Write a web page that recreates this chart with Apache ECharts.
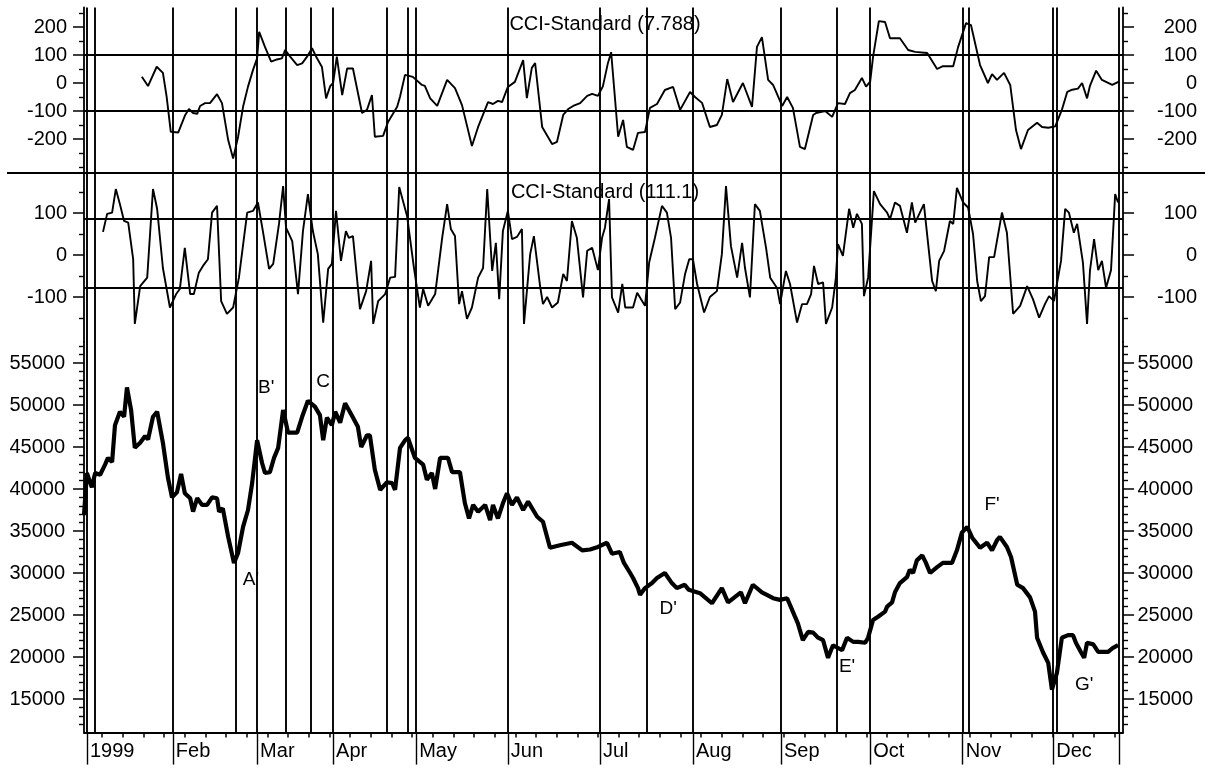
<!DOCTYPE html>
<html><head><meta charset="utf-8">
<script src="https://cdn.jsdelivr.net/npm/echarts@6.0.0/dist/echarts.min.js"></script>
<style>html,body{margin:0;padding:0;background:#fff}#c{width:1211px;height:769px}</style>
</head><body><div id="c"></div>
<script>
const FONT = '"Liberation Sans", Arial, Helvetica, sans-serif';

// x axis: position in trading days from the first bar of 1999
const X_MAX = 251.5;
const monthLabels = ['1999','Feb','Mar','Apr','May','Jun','Jul','Aug','Sep','Oct','Nov','Dec'];
const monthStartDays = [0.7, 21.5, 41.9, 60.3, 80.4, 102.6, 124.9, 147.4, 168.7, 190.3, 212.7, 234.6];
const endDay = 250.5;
const markerDays = [2.7, 36.8, 48.9, 55.0, 73.3, 78.4, 136.3, 182.3, 214.2, 235.5];

// y tick values
const cciFastMajor = [-200, -100, 0, 100, 200];
const cciFastMinor = [-300, -250, -150, -50, 50, 150, 250];
const cciSlowMajor = [-100, 0, 100];
const cciSlowMinor = [-150, -50, 50, 150];
const priceMajor = [15000, 20000, 25000, 30000, 35000, 40000, 45000, 50000, 55000];
const priceMinor = [12000,13000,14000,16000,17000,18000,19000,21000,22000,23000,24000,26000,27000,28000,29000,31000,32000,33000,34000,36000,37000,38000,39000,41000,42000,43000,44000,46000,47000,48000,49000,51000,52000,53000,54000,56000,57000];

// reference levels
const cciFastLevels = [100, -100];
const cciSlowLevels = [87, -78];

// titles & annotations
const titleFast = 'CCI-Standard (7.788)';
const titleSlow = 'CCI-Standard (111.1)';
const pointLabels = ["A'", "B'", 'C', "D'", "E'", "F'", "G'"];
const pointLabelDays = [40.4, 44.1, 57.9, 141.4, 184.7, 219.8, 242.1];
const pointLabelVals = [29200, 52100, 52800, 25700, 18800, 38100, 16700];

// [day, CCI] top panel
const cciFastData = [[14.0,22],[15.5,-11],[17.6,58],[19.1,36],[20.0,-49],[21.0,-174],[22.8,-177],[24.5,-114],[25.4,-93],[26.4,-107],[27.4,-110],[28.1,-82],[29.3,-72],[30.5,-72],[32.2,-40],[33.4,-72],[34.9,-204],[36.1,-270],[37.3,-192],[38.5,-85],[39.7,-13],[40.9,46],[41.9,88],[42.4,183],[43.8,129],[45.3,76],[46.7,84],[47.9,88],[48.7,118],[49.9,94],[51.6,64],[52.8,70],[54.0,94],[55.2,124],[56.2,94],[57.6,57],[58.6,-55],[59.6,-11],[60.3,0],[61.2,94],[62.5,-43],[63.7,52],[65.1,52],[67.3,-107],[68.5,-96],[69.7,-43],[70.4,-192],[72.4,-189],[73.6,-139],[75.8,-85],[76.5,-49],[77.7,29],[79.6,22],[81.8,-7],[82.5,-10],[83.8,-55],[85.5,-82],[87.9,11],[89.8,-18],[91.5,-79],[93.9,-225],[95.4,-157],[97.8,-68],[99.0,-75],[100.2,-64],[101.2,-68],[102.6,-14],[104.3,4],[106.3,82],[107.2,-54],[108.4,54],[109.2,71],[110.9,-157],[113.3,-218],[114.5,-210],[116.0,-114],[117.2,-93],[118.4,-82],[120.1,-72],[121.8,-46],[123.0,-39],[124.4,-46],[125.6,-12],[126.8,70],[127.6,110],[129.3,-192],[130.5,-132],[131.4,-228],[132.9,-239],[134.1,-178],[135.8,-175],[137.0,-89],[138.7,-75],[140.6,-25],[142.6,-14],[144.3,-96],[146.7,-32],[147.9,-50],[149.6,-71],[151.5,-157],[153.2,-150],[154.4,-114],[155.7,14],[157.1,-68],[159.5,0],[161.7,-85],[162.9,129],[164.1,164],[165.6,11],[166.8,-7],[169.0,-82],[170.2,-50],[171.6,-89],[173.3,-228],[174.5,-236],[176.5,-114],[177.2,-107],[179.4,-100],[181.1,-121],[182.5,-72],[184.2,-75],[185.4,-36],[186.6,-25],[188.3,18],[189.3,-13],[190.3,5],[191.0,93],[192.4,221],[193.9,218],[195.1,160],[197.5,160],[199.5,118],[201.2,111],[204.1,107],[206.5,50],[207.9,60],[210.4,60],[211.6,129],[213.5,214],[214.7,207],[216.9,64],[218.8,0],[219.8,32],[221.0,11],[222.7,36],[224.2,-7],[225.6,-168],[226.8,-236],[228.5,-168],[230.7,-142],[231.9,-157],[233.4,-160],[235.1,-155],[236.7,-96],[238.0,-32],[239.2,-24],[240.6,-20],[241.6,0],[242.8,-55],[243.5,-10],[245.0,44],[246.4,11],[248.9,-7],[250.5,5]];

// [day, CCI] middle panel
const cciSlowData = [[4.6,55],[5.6,98],[6.8,101],[7.7,157],[8.7,121],[9.7,81],[10.7,77],[11.9,-10],[12.3,-164],[13.6,-74],[15.3,-54],[16.7,157],[17.7,110],[19.1,-31],[20.8,-125],[22.3,-93],[23.2,-81],[24.4,17],[25.7,-93],[26.6,-93],[27.8,-42],[28.8,-26],[30.0,-10],[31.0,101],[32.2,117],[33.2,-110],[34.6,-140],[36.1,-125],[37.5,-54],[39.5,101],[40.9,105],[42.1,125],[43.3,57],[44.8,-33],[45.8,-21],[47.2,74],[48.2,164],[48.9,65],[50.4,33],[51.8,-93],[53.0,57],[54.2,145],[55.4,57],[56.6,2],[57.9,-161],[59.1,-33],[60.0,-21],[61.0,105],[62.2,-14],[63.4,57],[64.1,41],[65.1,45],[66.8,-129],[68.3,-86],[69.5,-14],[70.0,-164],[71.2,-110],[72.9,-93],[74.1,-54],[75.3,-52],[76.3,162],[78.2,93],[79.8,-26],[81.3,-125],[82.1,-81],[83.3,-121],[85.0,-93],[86.7,41],[87.9,121],[88.8,62],[89.8,45],[90.8,-117],[91.5,-86],[92.7,-152],[93.9,-125],[95.4,-54],[96.6,-31],[97.6,157],[98.8,-38],[99.7,29],[100.5,-105],[101.4,57],[102.6,105],[103.6,38],[104.8,43],[106.0,62],[106.5,-164],[108.0,2],[108.9,45],[110.4,-74],[111.1,-117],[112.1,-100],[113.3,-125],[114.7,-113],[116.0,-45],[116.9,-62],[118.1,81],[119.3,41],[120.8,-101],[121.8,10],[123.0,17],[124.4,-36],[125.4,41],[126.1,65],[127.1,133],[127.8,-101],[129.3,-137],[130.3,-69],[131.0,-125],[132.9,-125],[133.9,-90],[134.8,-105],[135.8,-121],[136.8,-18],[138.2,41],[139.9,117],[141.1,101],[142.1,41],[143.1,-129],[144.3,-113],[145.5,-45],[146.5,-10],[147.4,-10],[148.4,-69],[150.1,-137],[151.5,-100],[153.2,-86],[154.4,2],[155.4,164],[156.6,21],[158.1,-54],[159.3,29],[160.0,-31],[161.2,-101],[162.4,121],[163.6,105],[165.1,17],[166.1,-54],[167.8,-79],[168.5,-117],[169.9,-38],[170.9,-69],[172.6,-161],[173.8,-117],[175.0,-117],[176.0,-93],[176.7,-26],[177.7,-69],[178.9,-65],[179.6,-164],[181.1,-125],[182.0,-54],[182.5,26],[183.7,-2],[185.2,110],[186.2,65],[187.1,98],[188.3,74],[188.8,-98],[189.8,-54],[191.2,152],[192.7,121],[194.4,101],[195.1,85],[196.3,125],[197.5,117],[199.2,53],[200.4,125],[201.2,77],[203.3,121],[205.3,-62],[206.2,-86],[207.0,-14],[208.2,10],[209.6,81],[210.4,74],[211.3,160],[212.8,125],[214.0,113],[215.2,50],[216.2,-62],[217.1,-110],[218.1,-98],[219.1,-5],[220.3,-5],[222.2,101],[223.4,53],[224.9,-140],[226.6,-121],[228.3,-74],[229.7,-105],[231.2,-149],[232.6,-117],[233.6,-98],[234.8,-110],[235.5,-69],[236.5,-14],[237.5,110],[238.4,101],[239.6,53],[240.4,74],[241.8,-18],[242.8,-164],[243.5,-38],[244.5,38],[245.5,-36],[246.4,-14],[247.4,-78],[248.6,-36],[249.6,145],[250.3,125]];

// [day, price]
const priceData = [[0,36900],[0.7,41900],[1.9,40200],[2.7,41900],[3.9,41700],[5.1,42900],[5.8,43700],[6.8,43200],[7.5,47600],[8.7,49200],[9.7,48600],[10.4,52100],[11.4,49400],[12.3,44900],[13.6,45500],[14.8,46300],[15.5,45900],[16.7,48600],[17.7,49200],[19.1,45500],[20.3,41400],[21.3,39000],[22.5,39600],[23.5,41800],[24.4,39500],[25.7,38900],[26.4,37300],[27.4,38900],[28.6,38100],[29.8,38100],[31.0,39000],[32.2,38900],[32.7,37300],[33.6,37700],[34.9,34300],[36.3,31200],[37.3,32400],[38.5,35500],[39.7,37500],[40.7,40700],[41.9,45800],[43.1,43100],[43.8,41900],[45.0,42000],[46.0,43700],[47.0,44900],[48.2,49400],[49.4,46700],[51.6,46700],[52.8,48600],[54.2,50500],[55.9,49800],[57.1,48800],[57.9,45800],[58.8,48500],[60.0,47600],[60.8,49200],[62.0,47900],[63.2,50200],[65.1,48500],[66.3,47400],[67.1,45000],[68.5,46400],[69.2,46400],[70.4,42300],[71.7,39900],[73.3,40800],[74.6,40700],[75.3,39900],[76.5,44900],[77.7,45800],[78.4,46100],[80.1,43700],[82.1,42900],[83.0,41100],[84.2,41900],[85.0,40000],[86.2,43700],[88.1,43700],[89.1,42000],[91.0,42000],[92.2,38300],[93.2,36500],[94.2,38100],[95.4,37300],[97.1,38100],[98.3,36300],[99.0,38100],[100.2,36500],[101.4,38300],[102.4,39500],[103.6,38100],[104.8,39000],[106.3,37500],[107.5,38500],[109.7,36700],[111.1,36100],[112.8,33000],[115.2,33300],[118.1,33600],[120.6,32700],[122.5,32800],[124.4,33100],[126.6,33600],[127.8,32300],[129.7,32500],[130.7,31200],[132.2,30000],[132.9,29400],[134.1,28200],[134.6,27400],[135.8,28200],[137.5,28800],[138.7,29400],[140.6,30000],[142.3,28800],[143.5,28200],[145.4,28600],[146.4,28000],[149.1,27600],[152.0,26400],[154.4,28200],[155.9,26500],[159.0,27700],[160.0,26400],[161.9,28600],[164.1,27700],[165.3,27400],[166.8,27000],[168.5,26800],[170.2,27000],[172.1,24800],[172.8,24000],[174.0,22000],[175.3,23000],[176.5,22900],[177.7,22300],[178.9,22000],[180.1,19900],[181.3,21400],[183.5,20800],[184.7,22300],[186.2,21800],[187.4,21800],[189.1,21700],[189.8,22300],[191.0,24400],[192.2,24800],[193.9,25400],[194.4,26000],[195.6,26500],[196.3,27700],[197.5,28800],[199.2,29500],[199.9,30400],[200.7,30000],[201.6,31500],[202.9,32100],[203.8,31200],[204.8,30000],[206.5,30700],[207.9,31200],[210.1,31200],[211.3,32700],[212.5,34800],[213.8,35500],[215.0,34200],[216.9,33000],[218.6,33600],[219.8,32700],[221.0,33900],[221.7,34300],[223.4,33100],[224.4,31900],[225.9,28600],[227.3,28200],[229.0,27100],[230.2,25400],[230.7,22300],[232.1,20600],[233.4,19300],[234.3,16100],[235.5,18100],[236.7,22300],[238.2,22600],[239.4,22600],[240.1,21700],[241.3,20600],[242.1,19900],[242.8,21700],[244.3,21500],[245.5,20600],[247.9,20600],[249.1,21100],[250.3,21400]];

// weekly tick positions (every 5 trading days)
const weekTickDays = [];
for (let d = 4.4; d <= 250; d += 5) weekTickDays.push(Math.round(d * 10) / 10);

const BLACK = '#000';
const GRID_L = 84, GRID_R = 88;

function monthLabel(v) {
  let best = 0, bd = 1e9;
  monthStartDays.forEach((d, i) => { const dd = Math.abs(d - v); if (dd < bd) { bd = dd; best = i; } });
  return monthLabels[best];
}

function yAxes(grid, min, max, major, minor, lMargin, rMargin) {
  const base = { type: 'value', gridIndex: grid, min, max, splitLine: { show: false } };
  const lbl = { show: true, customValues: major, formatter: v => String(v), color: BLACK, fontSize: 20, fontFamily: FONT };
  return [
    Object.assign({}, base, { position: 'left',
      axisLine: { show: true, lineStyle: { color: BLACK, width: 1.8 } },
      axisTick: { show: true, customValues: major, length: 11, lineStyle: { color: BLACK, width: 1.5 } },
      axisLabel: Object.assign({}, lbl, { margin: lMargin }) }),
    Object.assign({}, base, { position: 'left',
      axisLine: { show: false },
      axisTick: { show: true, customValues: minor, length: 5, lineStyle: { color: BLACK, width: 1.4 } },
      axisLabel: { show: false } }),
    Object.assign({}, base, { position: 'right',
      axisLine: { show: true, lineStyle: { color: BLACK, width: 1.8 } },
      axisTick: { show: true, customValues: major, length: 11, lineStyle: { color: BLACK, width: 1.5 } },
      axisLabel: Object.assign({}, lbl, { margin: rMargin, align: 'right' }) }),
    Object.assign({}, base, { position: 'right',
      axisLine: { show: false },
      axisTick: { show: true, customValues: minor, length: 5, lineStyle: { color: BLACK, width: 1.4 } },
      axisLabel: { show: false } })
  ];
}

const vLines = monthStartDays.concat(markerDays, [endDay]).map(d => ({ xAxis: d }));
const mlStyle = { symbol: ['none', 'none'], silent: true, animation: false, label: { show: false },
  lineStyle: { color: BLACK, type: 'solid', width: 1.9 }, emphasis: { disabled: true } };

const hiddenX = g => ({ type: 'value', gridIndex: g, min: 0, max: X_MAX, show: false, splitLine: { show: false } });

const option = {
  animation: false,
  backgroundColor: '#fff',
  grid: [
    { left: GRID_L, right: GRID_R, top: 7.4, height: 165.2, containLabel: false, outerBoundsMode: 'none' },
    { left: GRID_L, right: GRID_R, top: 173.1, height: 168.84, containLabel: false, outerBoundsMode: 'none' },
    { left: GRID_L, right: GRID_R, top: 342, height: 390.6, containLabel: false, outerBoundsMode: 'none' }
  ],
  xAxis: [
    hiddenX(0), hiddenX(1),
    { type: 'value', gridIndex: 2, min: 0, max: X_MAX, position: 'bottom',
      axisLine: { show: true, lineStyle: { color: BLACK, width: 1.8 } },
      axisTick: { show: true, customValues: weekTickDays, length: 5, lineStyle: { color: BLACK, width: 1.5 } },
      axisLabel: { show: false }, splitLine: { show: false } },
    { type: 'value', gridIndex: 2, min: 0, max: X_MAX, position: 'bottom',
      axisLine: { show: false },
      axisTick: { show: true, customValues: monthStartDays.concat([endDay]), length: 32, lineStyle: { color: BLACK, width: 1.4 } },
      axisLabel: { show: true, customValues: monthStartDays, formatter: v => monthLabel(v), align: 'left',
        padding: [0, 0, 0, 3], margin: 9, color: BLACK, fontSize: 20, fontFamily: FONT },
      splitLine: { show: false } }
  ],
  yAxis: [].concat(
    yAxes(0, -320, 270, cciFastMajor, cciFastMinor, 17, 74),
    yAxes(1, -207, 195, cciSlowMajor, cciSlowMinor, 17, 74),
    yAxes(2, 11000, 57500, priceMajor, priceMinor, 19, 70)
  ),
  series: [
    { type: 'line', xAxisIndex: 0, yAxisIndex: 0, data: cciFastData, symbol: 'none', silent: true,
      lineStyle: { color: BLACK, width: 1.9 },
      markLine: Object.assign({}, mlStyle, { data: vLines.concat(cciFastLevels.map(v => ({ yAxis: v }))) }) },
    { type: 'line', xAxisIndex: 1, yAxisIndex: 4, data: cciSlowData, symbol: 'none', silent: true,
      lineStyle: { color: BLACK, width: 1.9 },
      markLine: Object.assign({}, mlStyle, { data: vLines.concat(cciSlowLevels.map(v => ({ yAxis: v }))) }) },
    { type: 'line', xAxisIndex: 2, yAxisIndex: 8, data: priceData, symbol: 'none', silent: true,
      lineStyle: { color: BLACK, width: 4.2 },
      markLine: Object.assign({}, mlStyle, { data: vLines }),
      markPoint: { symbol: 'circle', symbolSize: 1, silent: true, itemStyle: { color: 'rgba(0,0,0,0)' },
        label: { show: true, position: 'inside', formatter: p => p.name, color: BLACK, fontSize: 19, fontFamily: FONT },
        data: pointLabels.map((t, i) => ({ name: t, coord: [pointLabelDays[i], pointLabelVals[i]] })) } }
  ],
  graphic: [
    { type: 'line', silent: true, shape: { x1: 7, y1: 173, x2: 1205, y2: 173 }, style: { stroke: BLACK, lineWidth: 1.8 } },
    { type: 'text', silent: true, x: 605, y: 24, style: { text: titleFast, fill: BLACK, font: '20px ' + FONT, textAlign: 'center', textVerticalAlign: 'middle' } },
    { type: 'text', silent: true, x: 605, y: 192, style: { text: titleSlow, fill: BLACK, font: '20px ' + FONT, textAlign: 'center', textVerticalAlign: 'middle' } }
  ]
};

const chart = echarts.init(document.getElementById('c'), null, { renderer: 'canvas' });
chart.setOption(option);
</script></body></html>
